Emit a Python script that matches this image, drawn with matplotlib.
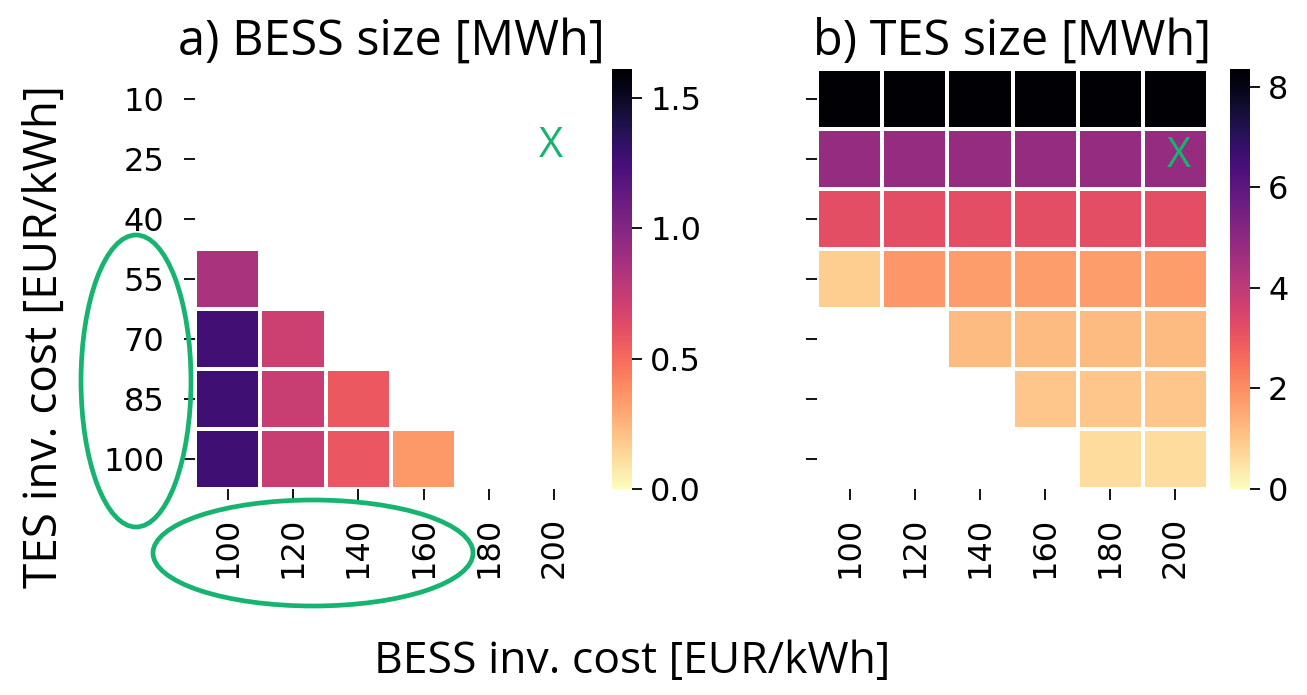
import numpy as np
import matplotlib
matplotlib.use("Agg")
import matplotlib.pyplot as plt
from matplotlib.patches import Ellipse

# investment cost grid
bess_cost = [100, 120, 140, 160, 180, 200]
tes_cost = [10, 25, 40, 55, 70, 85, 100]

# optimal BESS size [MWh], rows = TES cost, cols = BESS cost (nan = no battery)
bess_size = np.array([
    [np.nan, np.nan, np.nan, np.nan, np.nan, np.nan],
    [np.nan, np.nan, np.nan, np.nan, np.nan, np.nan],
    [np.nan, np.nan, np.nan, np.nan, np.nan, np.nan],
    [0.85, np.nan, np.nan, np.nan, np.nan, np.nan],
    [1.26, 0.72, np.nan, np.nan, np.nan, np.nan],
    [1.27, 0.73, 0.57, np.nan, np.nan, np.nan],
    [1.27, 0.73, 0.58, 0.35, np.nan, np.nan],
])

# optimal TES size [MWh]
tes_size = np.array([
    [8.30, 8.30, 8.30, 8.30, 8.30, 8.30],
    [4.80, 4.80, 4.80, 4.80, 4.80, 4.80],
    [3.20, 3.20, 3.20, 3.20, 3.20, 3.20],
    [0.85, 1.85, 1.70, 1.70, 1.70, 1.70],
    [np.nan, np.nan, 1.20, 1.20, 1.20, 1.20],
    [np.nan, np.nan, np.nan, 1.00, 1.00, 1.00],
    [np.nan, np.nan, np.nan, np.nan, 0.60, 0.60],
])

W, H = 1307, 695
fig = plt.figure(figsize=(W / 100, H / 100), dpi=100)

def box(x0, y0, x1, y1):
    return [x0 / W, 1 - y1 / H, (x1 - x0) / W, (y1 - y0) / H]

ax1 = fig.add_axes(box(195, 69, 587, 489))
cax1 = fig.add_axes(box(612, 69, 632, 489))
ax2 = fig.add_axes(box(817, 69, 1208, 489))
cax2 = fig.add_axes(box(1230, 69, 1250, 489))

lab_font = ["Open Sans", "DejaVu Sans"]
green = "#17b370"
tick_fs = 23

def heat(ax, cax, data, vmax, cticks):
    m = ax.pcolormesh(np.ma.masked_invalid(data), cmap="magma_r", vmin=0, vmax=vmax,
                      edgecolors="white", linewidth=1.5)
    ax.set_xlim(0, len(bess_cost))
    ax.set_ylim(len(tes_cost), 0)
    for s in ax.spines.values():
        s.set_visible(False)
    ax.set_xticks(np.arange(len(bess_cost)) + 0.5)
    ax.set_xticklabels(bess_cost, rotation=90)
    ax.set_yticks(np.arange(len(tes_cost)) + 0.5)
    ax.tick_params(axis="y", labelsize=tick_fs, length=8, width=1.3, pad=14)
    ax.tick_params(axis="x", labelsize=tick_fs, length=8, width=1.3, pad=12)
    cb = fig.colorbar(m, cax=cax, ticks=cticks)
    cb.outline.set_visible(False)
    cb.ax.tick_params(labelsize=tick_fs, length=7, width=1.3, pad=6)
    return m

heat(ax1, cax1, bess_size, 1.61, [0.0, 0.5, 1.0, 1.5])
cax1.set_yticklabels(["0.0", "0.5", "1.0", "1.5"])
ax1.set_yticklabels(tes_cost)
heat(ax2, cax2, tes_size, 8.35, [0, 2, 4, 6, 8])
ax2.set_yticklabels([])

ax1.set_title("a) BESS size [MWh]", fontsize=35, family=lab_font, pad=10)
ax2.set_title("b) TES size [MWh]", fontsize=35, family=lab_font, pad=10)
fig.text(45 / W, 1 - 337 / H, "TES inv. cost [EUR/kWh]", rotation=90, fontsize=33,
         family=lab_font, ha="center", va="center")
fig.text(632 / W, 1 - 662 / H, "BESS inv. cost [EUR/kWh]", fontsize=32,
         family=lab_font, ha="center", va="center")

# selected case markers
ax1.text(5.45, 1.28, "X", color=green, fontsize=30, family=lab_font, ha="center", va="center")
ax2.text(5.55, 1.45, "X", color=green, fontsize=30, family=lab_font, ha="center", va="center")

# highlight rings around tick labels
fig.add_artist(Ellipse((136 / W, 1 - 381 / H), 110 / W, 292 / H, transform=fig.transFigure,
                       fill=False, edgecolor=green, linewidth=3.4))
fig.add_artist(Ellipse((313 / W, 1 - 553 / H), 320 / W, 106 / H, transform=fig.transFigure,
                       fill=False, edgecolor=green, linewidth=3.4))

fig.savefig("out.png", dpi=100)
